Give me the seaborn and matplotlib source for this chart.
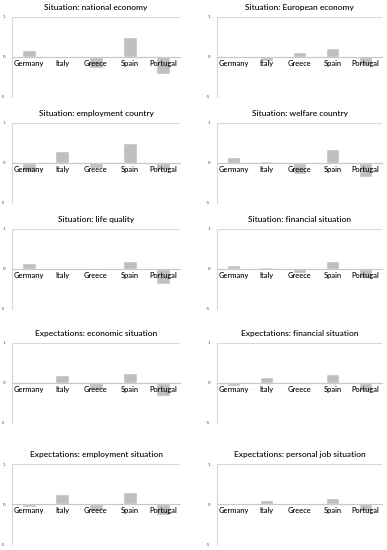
import matplotlib
matplotlib.use("Agg")
import matplotlib.pyplot as plt
import seaborn as sns

sns.set_style("white")
plt.rcParams['font.family'] = ['Lato', 'DejaVu Sans']

# Data
countries = ["Germany", "Italy", "Greece", "Spain", "Portugal"]
national_economy = [0.18, 0.03, -0.28, 0.49, -0.42]
european_economy = [-0.02, -0.10, 0.12, 0.23, -0.19]
employment_country = [-0.22, 0.29, -0.13, 0.49, -0.18]
welfare_country = [0.14, 0.06, -0.28, 0.36, -0.36]
life_quality = [0.14, 0.0, -0.02, 0.21, -0.38]
financial_situation = [0.11, 0.04, -0.10, 0.19, -0.23]
exp_economic = [0.0, 0.20, -0.17, 0.25, -0.32]
exp_financial = [-0.07, 0.15, -0.02, 0.22, -0.20]
exp_employment = [-0.08, 0.25, -0.18, 0.30, -0.27]
exp_personal_job = [-0.03, 0.10, 0.0, 0.15, -0.18]

titles = ["Situation: national economy", "Situation: European economy",
          "Situation: employment country", "Situation: welfare country",
          "Situation: life quality", "Situation: financial situation",
          "Expectations: economic situation", "Expectations: financial situation",
          "Expectations: employment situation", "Expectations: personal job situation"]
series = [national_economy, european_economy, employment_country, welfare_country,
          life_quality, financial_situation, exp_economic, exp_financial,
          exp_employment, exp_personal_job]

W, H = 387, 550
fig = plt.figure(figsize=(W / 100, H / 100), dpi=100)

# panel geometry in pixels (left, width) per column and top per row
cols = [(12, 168), (217, 165)]
row_tops = [17, 123, 229, 343, 464]
panel_h = 80

for i, (title, vals) in enumerate(zip(titles, series)):
    col = cols[i % 2]
    top = row_tops[i // 2]
    ax = fig.add_axes([col[0] / W, 1 - (top + panel_h) / H, col[1] / W, panel_h / H])
    sns.barplot(x=countries, y=vals, color="#bfbfbf", width=0.42, saturation=1,
                ax=ax, zorder=2)
    ax.set_xlim(-0.5, 4.5)
    ax.set_ylim(-1, 1)
    ax.set_yticks([-1, 0, 1])
    ax.set_yticklabels(["-1", "0", "1"], fontsize=3.2, color="#404040")
    ax.yaxis.grid(True, color="#d9d9d9", linewidth=0.8, zorder=0)
    ax.tick_params(axis="y", length=0, pad=5)
    for s in ["top", "right"]:
        ax.spines[s].set_visible(False)
    ax.spines["left"].set_color("#d9d9d9")
    ax.spines["left"].set_linewidth(0.8)
    ax.spines["bottom"].set_position(("data", 0))
    ax.spines["bottom"].set_color("#c8c8c8")
    ax.spines["bottom"].set_linewidth(0.8)
    ax.spines["bottom"].set_zorder(3)
    ax.set_xticks([-0.5, 0.5, 1.5, 2.5, 3.5, 4.5])
    ax.set_xticklabels([])
    ax.tick_params(axis="x", length=2, width=0.6, color="#c8c8c8", direction="out")
    ax.set_xlabel("")
    ax.set_ylabel("")
    for j, c in enumerate(countries):
        ax.text(j, -0.16, c, ha="center", va="center", fontsize=5.4, color="black",
                fontweight="medium", zorder=5)
    ax.set_title(title, fontsize=6.0, color="black", fontweight="medium", pad=5)

fig.savefig("out.png", dpi=100)
